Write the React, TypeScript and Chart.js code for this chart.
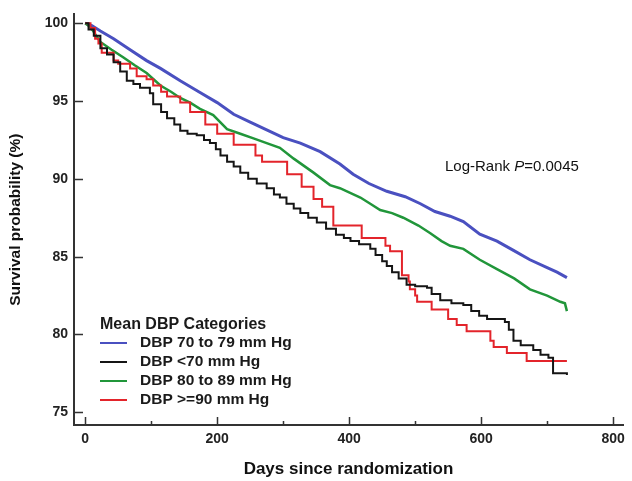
import React, { useEffect, useRef } from 'react';
import { Chart, registerables } from 'chart.js';
Chart.register(...registerables);

const xTickValues = [0, 200, 400, 600, 800];
const xMinorTickValues = [100, 300, 500, 700];
const yTickValues = [75, 80, 85, 90, 95, 100];

const seriesNames = ['DBP 70 to 79 mm Hg', 'DBP <70 mm Hg', 'DBP 80 to 89 mm Hg', 'DBP >=90 mm Hg'];
const legendTitle = 'Mean DBP Categories';
const annotationPrefix = 'Log-Rank ';
const annotationP = 'P';
const annotationValue = '=0.0045';

const blueDays = [0, 10, 23, 43, 68, 93, 114, 144, 174, 200, 225, 250, 275, 300, 326, 356, 386, 406, 430, 457, 485, 508, 530, 553, 573, 598, 624, 649, 674, 700, 715, 730];
const blueSurv = [100, 99.85, 99.5, 99.0, 98.3, 97.6, 97.1, 96.3, 95.55, 94.9, 94.15, 93.65, 93.15, 92.65, 92.3, 91.75, 90.95, 90.3, 89.7, 89.2, 88.85, 88.4, 87.9, 87.6, 87.25, 86.45, 86.0, 85.4, 84.8, 84.3, 84.0, 83.65];

const greenDays = [0, 8, 23, 40, 58, 75, 93, 114, 130, 144, 159, 174, 194, 215, 235, 255, 275, 295, 316, 346, 371, 386, 417, 432, 447, 465, 482, 505, 523, 540, 553, 573, 598, 624, 650, 674, 700, 720, 727, 730];
const greenSurv = [100, 99.75, 98.8, 98.3, 97.8, 97.3, 96.8, 96.0, 95.6, 95.2, 94.9, 94.5, 94.1, 93.2, 92.9, 92.6, 92.3, 92.0, 91.3, 90.4, 89.6, 89.4, 88.8, 88.4, 88.0, 87.8, 87.5, 87.0, 86.5, 86.0, 85.7, 85.5, 84.8, 84.2, 83.6, 82.9, 82.5, 82.1, 82.0, 81.5];

const blackDays = [0, 5, 13, 23, 33, 43, 53, 63, 73, 83, 98, 103, 115, 124, 135, 144, 155, 169, 180, 189, 198, 205, 215, 225, 235, 247, 260, 275, 286, 295, 305, 316, 326, 338, 351, 365, 380, 392, 402, 415, 432, 440, 450, 457, 465, 475, 487, 500, 518, 525, 538, 555, 573, 585, 597, 609, 636, 642, 649, 660, 679, 690, 702, 709, 730];
const blackSurv = [100, 99.6, 99.2, 98.4, 98.0, 97.5, 96.9, 96.3, 96.1, 95.85, 95.5, 94.8, 94.3, 93.9, 93.5, 93.1, 92.9, 92.8, 92.5, 92.3, 91.9, 91.5, 91.1, 90.8, 90.4, 90.0, 89.7, 89.4, 89.0, 88.8, 88.4, 88.1, 87.8, 87.5, 87.2, 86.8, 86.4, 86.2, 86.0, 85.8, 85.5, 85.1, 84.7, 84.4, 84.0, 83.6, 83.2, 83.1, 83.0, 82.6, 82.2, 82.0, 81.9, 81.5, 81.2, 81.0, 80.8, 80.3, 79.6, 79.3, 79.0, 78.7, 78.5, 77.5, 77.4];

const redDays = [0, 8, 15, 20, 25, 43, 50, 68, 78, 93, 103, 115, 124, 144, 159, 182, 200, 225, 258, 268, 306, 328, 346, 359, 376, 419, 455, 462, 480, 490, 492, 500, 503, 525, 550, 563, 578, 614, 619, 639, 669, 730];
const redSurv = [100, 99.7, 99.0, 98.7, 98.1, 97.6, 97.4, 97.1, 96.6, 96.4, 96.0, 95.6, 95.3, 94.9, 94.3, 93.5, 92.9, 92.2, 91.5, 91.1, 90.3, 89.5, 88.7, 88.2, 87.0, 86.2, 85.7, 85.35, 83.8, 83.4, 82.9, 82.5, 82.1, 81.6, 81.0, 80.6, 80.2, 79.6, 79.2, 78.8, 78.3, 78.3];

const colors = ['#4a50c0', '#151515', '#21963a', '#e3242b'];

const toPoints = (d: number[], s: number[]) => d.map((x, i) => ({ x, y: s[i] }));
const FONT = '"Liberation Sans", Arial, Helvetica, sans-serif';

export default function App() {
  const ref = useRef<HTMLCanvasElement>(null);
  useEffect(() => {
    document.body.style.margin = '0';
    const canvas = ref.current!;
    const decor = {
      id: 'decor',
      beforeDatasetsDraw(chart: any) {
        const { ctx, chartArea, scales } = chart;
        const x = scales.x, y = scales.y;
        ctx.save();
        ctx.strokeStyle = '#333';
        ctx.lineWidth = 1.5;
        ctx.beginPath();
        yTickValues.forEach((v) => {
          const py = Math.round(y.getPixelForValue(v)) + 0.5;
          ctx.moveTo(chartArea.left, py);
          ctx.lineTo(chartArea.left + 9, py);
        });
        xTickValues.forEach((v) => {
          const px = Math.round(x.getPixelForValue(v)) + 0.5;
          ctx.moveTo(px, chartArea.bottom);
          ctx.lineTo(px, chartArea.bottom - 8);
        });
        xMinorTickValues.forEach((v) => {
          const px = Math.round(x.getPixelForValue(v)) + 0.5;
          ctx.moveTo(px, chartArea.bottom);
          ctx.lineTo(px, chartArea.bottom - 4);
        });
        ctx.stroke();
        ctx.restore();
      },
      afterDraw(chart: any) {
        const { ctx } = chart;
        ctx.save();
        // legend
        ctx.fillStyle = '#1a1a1a';
        ctx.textBaseline = 'middle';
        ctx.textAlign = 'left';
        ctx.font = `bold 16px ${FONT}`;
        ctx.fillText(legendTitle, 100, 325);
        ctx.font = `bold 15.5px ${FONT}`;
        const rowY = [343, 362, 381, 400];
        seriesNames.forEach((name, i) => {
          ctx.strokeStyle = colors[i];
          ctx.lineWidth = 2;
          ctx.beginPath();
          ctx.moveTo(100, rowY[i]);
          ctx.lineTo(127, rowY[i]);
          ctx.stroke();
          ctx.fillStyle = '#1a1a1a';
          ctx.fillText(name, 140, rowY[i]);
        });
        // annotation
        ctx.font = `15px ${FONT}`;
        ctx.fillStyle = '#111';
        let ax = 445;
        const ay = 167;
        ctx.fillText(annotationPrefix, ax, ay);
        ax += ctx.measureText(annotationPrefix).width;
        ctx.font = `italic 15px ${FONT}`;
        ctx.fillText(annotationP, ax, ay);
        ax += ctx.measureText(annotationP).width;
        ctx.font = `15px ${FONT}`;
        ctx.fillText(annotationValue, ax, ay);
        ctx.restore();
      },
    };

    const chart = new Chart(canvas, {
      type: 'line',
      data: {
        datasets: [
          { label: seriesNames[0], data: toPoints(blueDays, blueSurv), borderColor: colors[0], borderWidth: 3, pointRadius: 0, stepped: false, tension: 0, order: 4 },
          { label: seriesNames[2], data: toPoints(greenDays, greenSurv), borderColor: colors[2], borderWidth: 2.5, pointRadius: 0, stepped: false, tension: 0, order: 3 },
          { label: seriesNames[3], data: toPoints(redDays, redSurv), borderColor: colors[3], borderWidth: 2, pointRadius: 0, stepped: true, order: 2 },
          { label: seriesNames[1], data: toPoints(blackDays, blackSurv), borderColor: colors[1], borderWidth: 2, pointRadius: 0, stepped: true, order: 1 },
        ],
      },
      options: {
        responsive: false,
        animation: false,
        layout: { padding: { top: 7, right: 9, left: 0, bottom: 0 } },
        plugins: { legend: { display: false }, tooltip: { enabled: false } },
        scales: {
          x: {
            type: 'linear',
            min: -17,
            max: 815,
            afterBuildTicks: (s: any) => { s.ticks = xTickValues.map((v) => ({ value: v })); },
            afterFit: (s: any) => { s.height = 56; },
            grid: { display: false, drawTicks: false },
            border: { display: true, color: '#333', width: 2 },
            ticks: { padding: 6, color: '#222', font: { family: FONT, size: 14, weight: 'bold' }, maxRotation: 0, autoSkip: false },
            title: { display: true, text: 'Days since randomization', color: '#111', font: { family: FONT, size: 17, weight: 'bold' }, padding: { top: 0, bottom: 1 } },
          },
          y: {
            type: 'linear',
            min: 74.18,
            max: 100.57,
            afterBuildTicks: (s: any) => { s.ticks = yTickValues.map((v) => ({ value: v })); },
            afterFit: (s: any) => { s.width = 74; },
            grid: { display: false, drawTicks: false },
            border: { display: true, color: '#333', width: 2 },
            ticks: { padding: 6, color: '#222', font: { family: FONT, size: 14, weight: 'bold' } },
            title: { display: true, text: 'Survival probability (%)', color: '#111', font: { family: FONT, size: 15.5, weight: 'bold' }, padding: { top: 6, bottom: 0 } },
          },
        },
      },
      plugins: [decor],
    } as any);
    return () => chart.destroy();
  }, []);
  return (
    <div style={{ width: 632, height: 481 }}>
      <canvas ref={ref} width={632} height={481} style={{ display: 'block' }} />
    </div>
  );
}
